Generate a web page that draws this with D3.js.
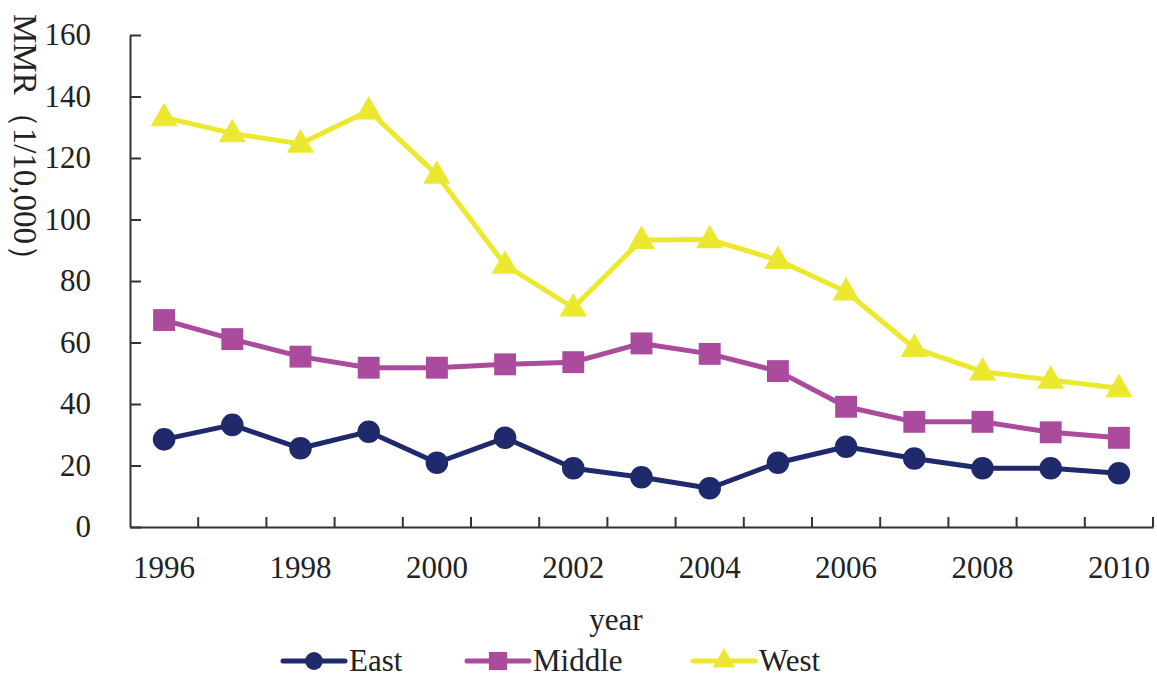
<!DOCTYPE html>
<html><head><meta charset="utf-8">
<script src="https://cdn.jsdelivr.net/npm/d3@7"></script>
<style>body{margin:0;background:#fff}svg{display:block}</style>
</head><body>
<svg id="c" width="1157" height="678"></svg>
<script>
const years = [1996,1997,1998,1999,2000,2001,2002,2003,2004,2005,2006,2007,2008,2009,2010];
const tickLabels = ["1996","1998","2000","2002","2004","2006","2008","2010"];
const yTicks = [0,20,40,60,80,100,120,140,160];
const seriesNames = ["East","Middle","West"];
const east   = [28.5,33.2,25.6,31.0,20.9,29.0,19.1,16.2,12.6,20.9,26.1,22.3,19.1,19.1,17.5];
const middle = [67.3,61.1,55.4,51.8,51.8,52.9,53.6,59.7,56.3,50.7,39.1,34.2,34.2,30.8,29.0];
const west   = [133.2,128.0,124.6,135.4,114.5,85.2,71.3,93.3,93.5,86.8,76.5,58.2,50.5,47.8,45.1];
const colors = ["#1f2a6c","#aa4b9e","#ece830"];
const shapes = [d3.symbolCircle, d3.symbolSquare, d3.symbolTriangle];
const allSeries = [east, middle, west];

const svg = d3.select("#c");
const font = "'Liberation Serif','Times New Roman',serif";
const L = 130, R = 1153, T = 35, B = 527;

const x = d3.scaleBand().domain(years).range([L, R]).padding(0);
const y = d3.scaleLinear().domain([0,160]).range([B, T]);

// Y axis
const ya = svg.append("g").attr("transform",`translate(${L},0)`)
  .call(d3.axisLeft(y).tickValues(yTicks).tickSizeInner(-11).tickSizeOuter(0).tickPadding(39));
ya.select(".domain").attr("stroke","#333").attr("stroke-width",2);
ya.selectAll(".tick line").attr("stroke","#333").attr("stroke-width",2);
ya.selectAll("text").attr("font-family",font).attr("font-size",31).attr("fill","#222");

// X axis
const xa = svg.append("g").attr("transform",`translate(0,${B})`)
  .call(d3.axisBottom(x).tickSize(0).tickFormat(d => tickLabels.includes(String(d)) ? String(d) : ""));
xa.select(".domain").attr("stroke","#333").attr("stroke-width",2);
xa.selectAll("text").attr("font-family",font).attr("font-size",31).attr("fill","#222").attr("dy","1.55em");
// band boundary ticks (inward)
const bounds = years.map(d => x(d) + x.bandwidth());
svg.append("g").selectAll("line").data(bounds).join("line")
  .attr("x1",d=>d).attr("x2",d=>d).attr("y1",B).attr("y2",B-10)
  .attr("stroke","#333").attr("stroke-width",2);

// Series
const cx = d => x(d) + x.bandwidth()/2;
allSeries.forEach((vals, i) => {
  const pts = years.map((yr, j) => [cx(yr), y(vals[j])]);
  svg.append("path").attr("d", d3.line()(pts)).attr("fill","none")
    .attr("stroke", colors[i]).attr("stroke-width",5).attr("stroke-linejoin","round");
  const size = i===0 ? 400 : (i===1 ? 480 : 320);
  svg.append("g").selectAll("path").data(pts).join("path")
    .attr("transform", p => `translate(${p[0]},${p[1] + (i===2 ? 1 : 0)})`)
    .attr("d", d3.symbol().type(shapes[i]).size(size))
    .attr("fill", colors[i]);
});

// Axis titles
svg.append("text").attr("x", 616).attr("y", 630).attr("text-anchor","middle")
  .attr("font-family",font).attr("font-size",31).attr("fill","#222").text("year");
svg.append("text").attr("transform","translate(14,14) rotate(90)")
  .attr("font-family",font).attr("font-size",33).attr("fill","#222").text("MMR（1/10,000）");

// Legend
const legX = [283, 467, 693];
const legY = 661;
seriesNames.forEach((name, i) => {
  const g = svg.append("g");
  g.append("line").attr("x1",legX[i]).attr("x2",legX[i]+62).attr("y1",legY).attr("y2",legY)
    .attr("stroke",colors[i]).attr("stroke-width",5).attr("stroke-linecap","round");
  g.append("path").attr("transform",`translate(${legX[i]+31},${legY})`)
    .attr("d", d3.symbol().type(shapes[i]).size(i===1?330:(i===0?250:220))).attr("fill",colors[i]);
  g.append("text").attr("x",legX[i]+66).attr("y",legY+10)
    .attr("font-family",font).attr("font-size",31).attr("fill","#222").text(name);
});
</script>
</body></html>
